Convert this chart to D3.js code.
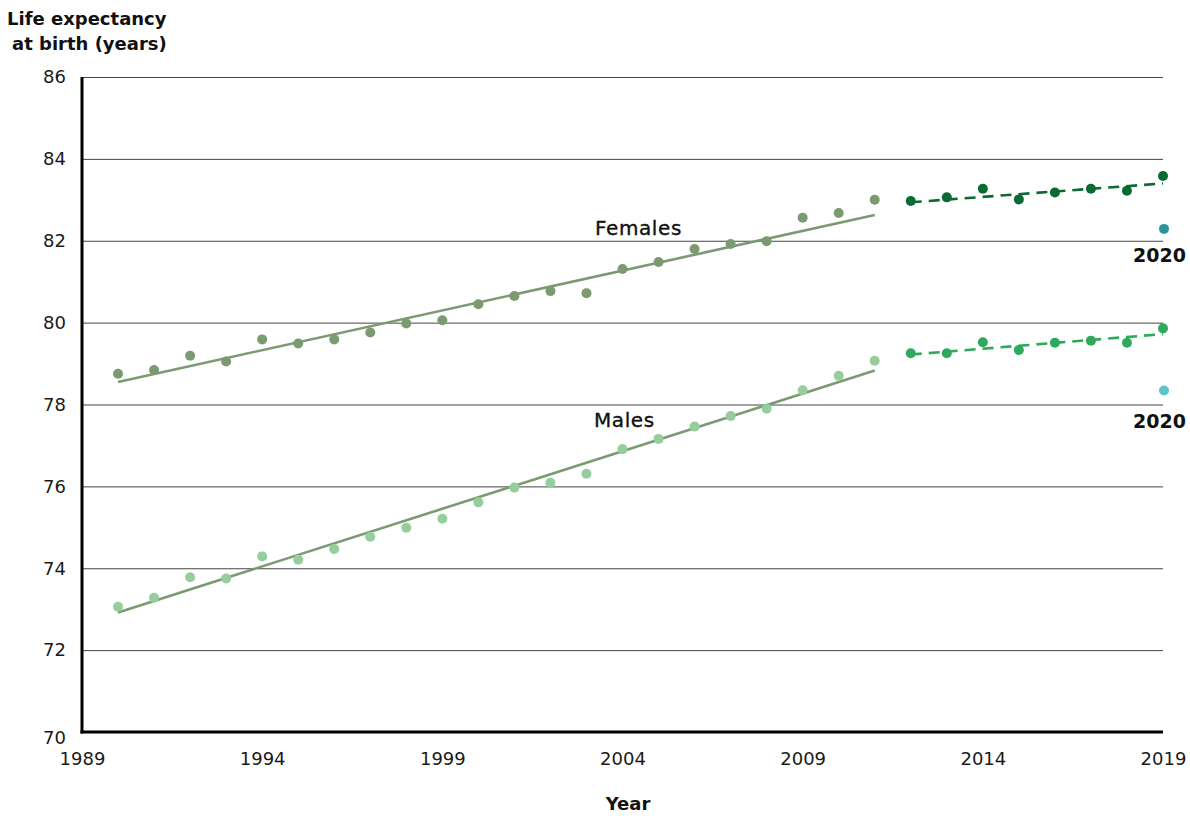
<!DOCTYPE html>
<html>
<head>
<meta charset="utf-8">
<script src="https://cdn.jsdelivr.net/npm/d3@7"></script>
<style>
  html, body { margin: 0; padding: 0; background: #fff; }
  svg { display: block; font-family: "DejaVu Sans", sans-serif; }
</style>
</head>
<body>
<svg id="chart" width="1190" height="816"></svg>
<script>
// ---- Data ----
const yearsEarly = [1990,1991,1992,1993,1994,1995,1996,1997,1998,1999,2000,2001,2002,2003,2004,2005,2006,2007,2008,2009,2010,2011];
const femalesEarly = [78.75,78.84,79.19,79.05,79.59,79.49,79.59,79.76,79.98,80.06,80.45,80.65,80.77,80.72,81.31,81.48,81.80,81.92,81.99,82.56,82.68,83.00];
const malesEarly = [73.06,73.28,73.78,73.75,74.29,74.21,74.47,74.77,74.99,75.21,75.61,75.97,76.09,76.31,76.91,77.16,77.46,77.72,77.90,78.35,78.70,79.07];

const yearsLate = [2012,2013,2014,2015,2016,2017,2018,2019];
const femalesLate = [82.97,83.06,83.27,83.01,83.18,83.27,83.22,83.58];
const malesLate = [79.25,79.25,79.52,79.33,79.51,79.56,79.51,79.86];

// Trend lines (endpoints)
const trendYearsEarly = [1990, 2011];
const femaleTrendEarly = [78.55, 82.63];
const maleTrendEarly = [72.92, 78.83];
const trendYearsLate = [2012, 2019];
const femaleTrendLate = [82.94, 83.40];
const maleTrendLate = [79.22, 79.72];

// 2020 values (drawn at the right edge of the axis)
const label2020 = "2020";
const female2020 = 82.29;
const male2020 = 78.34;

const xTicks = [1989,1994,1999,2004,2009,2014,2019];
const yTicks = [70,72,74,76,78,80,82,84,86];

// ---- Layout ----
const svg = d3.select("#chart");
const x = d3.scaleLinear().domain([1989, 2019]).range([82, 1163]);
const y = d3.scaleLinear().domain([70, 86]).range([732, 77]);
const FONT = "'DejaVu Sans', sans-serif";

const col = {
  femaleDot: "#7c9a72",
  trend: "#7c9a72",
  maleDot: "#96cd9c",
  femaleLate: "#0a6a34",
  maleLate: "#2eaa5d",
  female2020: "#2a959f",
  male2020: "#5cc4cd"
};

// gridlines + y tick labels
const yAxis = d3.axisLeft(y).tickValues(yTicks).tickSize(-(1163 - 82)).tickFormat(d3.format("d"));
const gy = svg.append("g").attr("transform", `translate(82,0)`).call(yAxis);
gy.select(".domain").remove();
gy.selectAll(".tick line").attr("stroke", "#444").attr("stroke-width", 1);
gy.selectAll(".tick text")
  .attr("x", -16)
  .attr("font-size", 18)
  .attr("fill", "#1a1a1a")
  .attr("font-family", FONT);
gy.selectAll(".tick").filter(d => d === 70).select("text").attr("dy", "0.62em");

// x axis
const xAxis = d3.axisBottom(x).tickValues(xTicks).tickSize(0).tickFormat(d3.format("d"));
const gx = svg.append("g").attr("transform", `translate(0,732)`).call(xAxis);
gx.select(".domain").remove();
gx.selectAll(".tick text")
  .attr("y", 20)
  .attr("font-size", 18)
  .attr("fill", "#1a1a1a")
  .attr("font-family", FONT);

// axis lines
svg.append("line").attr("x1", x(1989)).attr("x2", x(1989)).attr("y1", y(86)).attr("y2", y(70) + 1.5)
  .attr("stroke", "#000").attr("stroke-width", 3);
svg.append("line").attr("x1", x(1989) - 1.5).attr("x2", x(2019)).attr("y1", y(70)).attr("y2", y(70))
  .attr("stroke", "#000").attr("stroke-width", 3);

// trend lines
const line = d3.line().x(d => x(d[0])).y(d => y(d[1]));
function drawLine(years, vals, color, dash) {
  svg.append("path")
    .datum(years.map((yr, i) => [yr, vals[i]]))
    .attr("d", line)
    .attr("fill", "none")
    .attr("stroke", color)
    .attr("stroke-width", 2.6)
    .attr("stroke-dasharray", dash || null);
}
drawLine(trendYearsEarly, femaleTrendEarly, col.trend);
drawLine(trendYearsEarly, maleTrendEarly, col.trend);
drawLine(trendYearsLate, femaleTrendLate, col.femaleLate, "11,7");
drawLine(trendYearsLate, maleTrendLate, col.maleLate, "11,7");

// dots
function drawDots(years, vals, color) {
  svg.append("g").selectAll("circle")
    .data(years.map((yr, i) => [yr, vals[i]]))
    .join("circle")
    .attr("cx", d => x(d[0]))
    .attr("cy", d => y(d[1]))
    .attr("r", 5)
    .attr("fill", color);
}
drawDots(yearsEarly, femalesEarly, col.femaleDot);
drawDots(yearsEarly, malesEarly, col.maleDot);
drawDots(yearsLate, femalesLate, col.femaleLate);
drawDots(yearsLate, malesLate, col.maleLate);

// 2020 dots at the right edge
const xEdge = x(2019) + 1;
svg.append("circle").attr("cx", xEdge).attr("cy", y(female2020)).attr("r", 5).attr("fill", col.female2020);
svg.append("circle").attr("cx", xEdge).attr("cy", y(male2020)).attr("r", 5).attr("fill", col.male2020);

// labels
svg.append("text").attr("x", xEdge + 22).attr("y", y(female2020) + 33)
  .attr("text-anchor", "end").attr("font-size", 19).attr("font-weight", 700).attr("fill", "#111")
  .text(label2020);
svg.append("text").attr("x", xEdge + 22).attr("y", y(male2020) + 37)
  .attr("text-anchor", "end").attr("font-size", 19).attr("font-weight", 700).attr("fill", "#111")
  .text(label2020);

svg.append("text").attr("x", 595).attr("y", 235)
  .attr("font-size", 20).attr("letter-spacing", 0.6).attr("fill", "#111").attr("stroke", "#111").attr("stroke-width", 0.35)
  .text("Females");
svg.append("text").attr("x", 594).attr("y", 427)
  .attr("font-size", 20).attr("letter-spacing", 0.6).attr("fill", "#111").attr("stroke", "#111").attr("stroke-width", 0.35)
  .text("Males");

// titles
svg.append("text").attr("x", 7).attr("y", 25)
  .attr("font-size", 18).attr("font-weight", 700).attr("fill", "#111")
  .text("Life expectancy");
svg.append("text").attr("x", 12).attr("y", 50)
  .attr("font-size", 18).attr("font-weight", 700).attr("fill", "#111")
  .text("at birth (years)");
svg.append("text").attr("x", 628).attr("y", 810).attr("text-anchor", "middle")
  .attr("font-size", 18).attr("font-weight", 700).attr("fill", "#111")
  .text("Year");
</script>
</body>
</html>
